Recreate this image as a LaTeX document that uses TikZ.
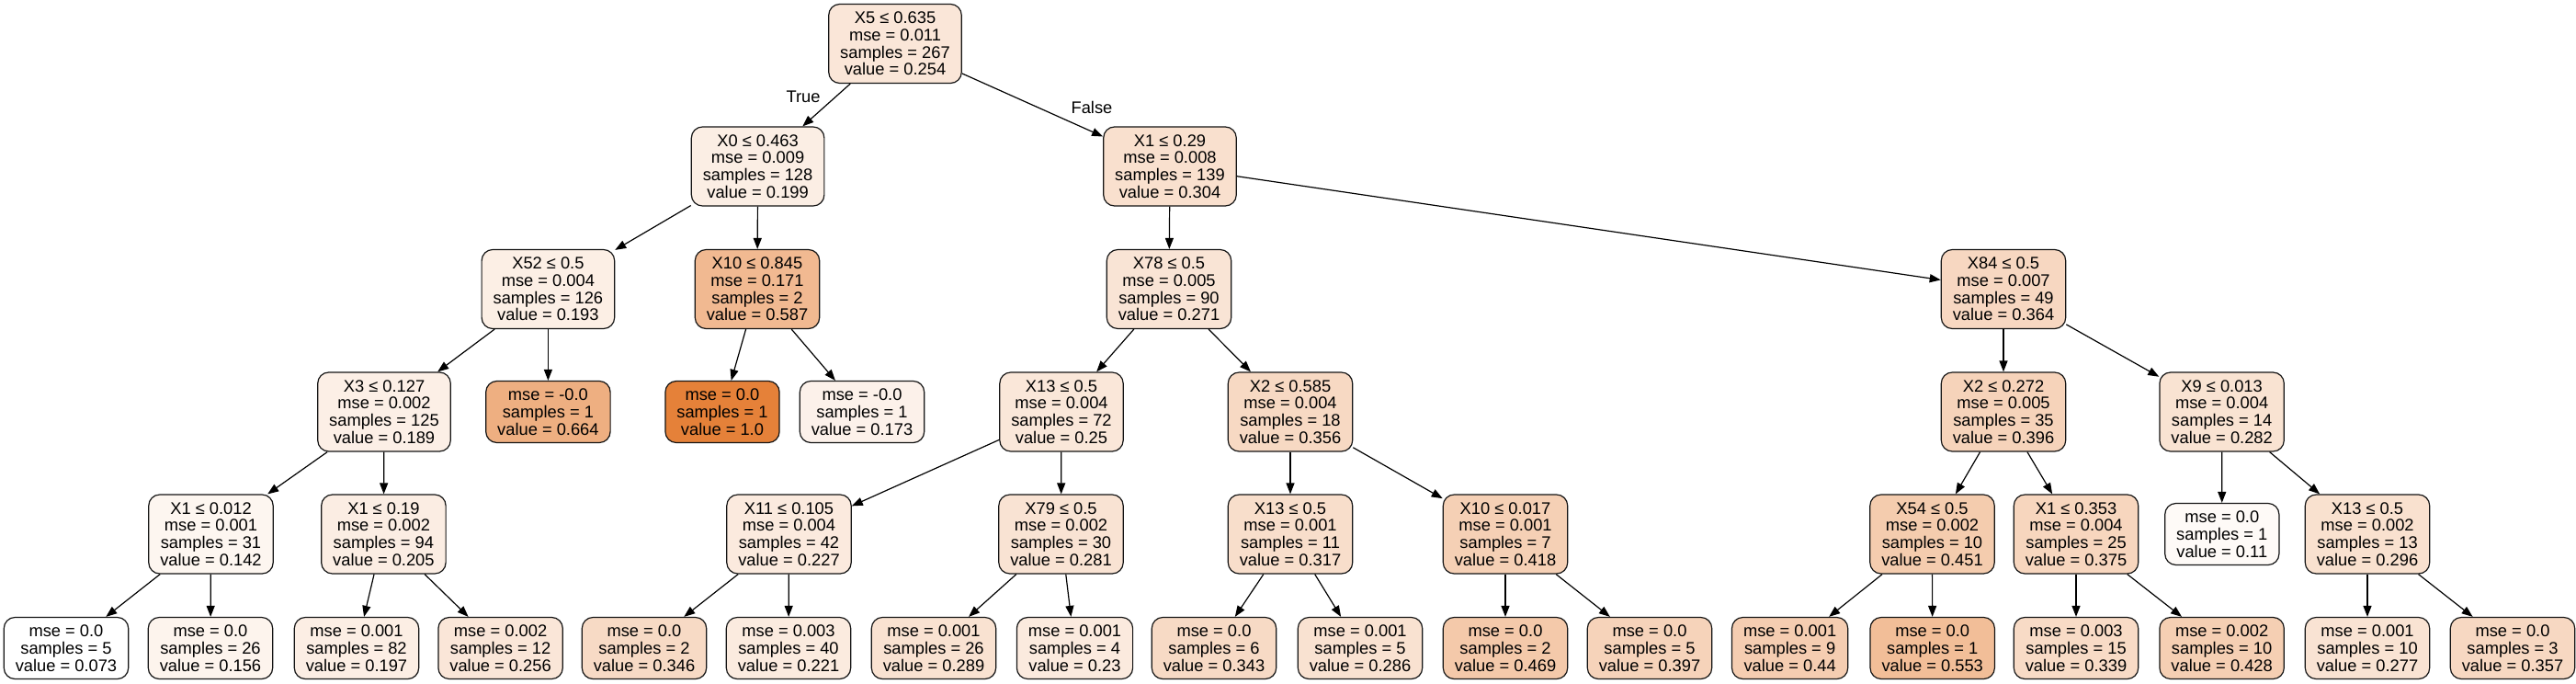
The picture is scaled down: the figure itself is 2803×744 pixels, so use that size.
\documentclass[tikz,border=0pt]{standalone}
\usepackage{fontspec}
\setmainfont{Liberation Sans}
\usetikzlibrary{arrows.meta}
\definecolor{treebase}{RGB}{229,129,57}
\definecolor{boxline}{RGB}{20,20,20}
\tikzset{
  tnode/.style={draw=boxline, line width=1.2pt, rounded corners=12pt, align=center,
    inner xsep=12.5pt, inner ysep=0pt, font=\fontsize{18.3pt}{18.7pt}\selectfont},
  split/.style={tnode, minimum height=86pt},
  leafbox/.style={tnode, minimum height=67pt},
  tedge/.style={draw=black, line width=1.2pt, -{Triangle[length=12pt,width=9pt]}},
  elabel/.style={font=\fontsize{18.3pt}{18.7pt}\selectfont}
}
\begin{document}
\begin{tikzpicture}[x=1pt,y=-1pt]
\useasboundingbox (0,0) rectangle (2803,744);
% level 0
\node[split, fill=treebase!19.5!white] (n0) at (974,47.5) {X5 ≤ 0.635\\mse = 0.011\\samples = 267\\value = 0.254};
% level 1
\node[split, fill=treebase!13.6!white] (n1) at (824.6,181) {X0 ≤ 0.463\\mse = 0.009\\samples = 128\\value = 0.199};
\node[split, fill=treebase!24.9!white] (n2) at (1273,181) {X1 ≤ 0.29\\mse = 0.008\\samples = 139\\value = 0.304};
% level 2
\node[split, fill=treebase!12.9!white] (n3) at (596.4,314.5) {X52 ≤ 0.5\\mse = 0.004\\samples = 126\\value = 0.193};
\node[split, fill=treebase!55.4!white] (n4) at (824,314.5) {X10 ≤ 0.845\\mse = 0.171\\samples = 2\\value = 0.587};
\node[split, fill=treebase!21.4!white] (n5) at (1272,314.5) {X78 ≤ 0.5\\mse = 0.005\\samples = 90\\value = 0.271};
\node[split, fill=treebase!31.4!white] (n6) at (2180,314.5) {X84 ≤ 0.5\\mse = 0.007\\samples = 49\\value = 0.364};
% level 3
\node[split, fill=treebase!12.5!white] (n7) at (418,448) {X3 ≤ 0.127\\mse = 0.002\\samples = 125\\value = 0.189};
\node[leafbox, fill=treebase!63.8!white] (n8) at (596.4,448) {mse = -0.0\\samples = 1\\value = 0.664};
\node[leafbox, fill=treebase!100!white] (n9) at (786,448) {mse = 0.0\\samples = 1\\value = 1.0};
\node[leafbox, fill=treebase!10.8!white] (n10) at (938,448) {mse = -0.0\\samples = 1\\value = 0.173};
\node[split, fill=treebase!19.1!white] (n11) at (1155,448) {X13 ≤ 0.5\\mse = 0.004\\samples = 72\\value = 0.25};
\node[split, fill=treebase!30.5!white] (n12) at (1404,448) {X2 ≤ 0.585\\mse = 0.004\\samples = 18\\value = 0.356};
\node[split, fill=treebase!34.8!white] (n13) at (2180,448) {X2 ≤ 0.272\\mse = 0.005\\samples = 35\\value = 0.396};
\node[split, fill=treebase!22.5!white] (n14) at (2417.6,448) {X9 ≤ 0.013\\mse = 0.004\\samples = 14\\value = 0.282};
% level 4
\node[split, fill=treebase!7.4!white] (n15) at (229.5,581) {X1 ≤ 0.012\\mse = 0.001\\samples = 31\\value = 0.142};
\node[split, fill=treebase!14.2!white] (n16) at (417.4,581) {X1 ≤ 0.19\\mse = 0.002\\samples = 94\\value = 0.205};
\node[split, fill=treebase!16.6!white] (n17) at (858.5,581) {X11 ≤ 0.105\\mse = 0.004\\samples = 42\\value = 0.227};
\node[split, fill=treebase!22.4!white] (n18) at (1154.5,581) {X79 ≤ 0.5\\mse = 0.002\\samples = 30\\value = 0.281};
\node[split, fill=treebase!26.3!white] (n19) at (1404,581) {X13 ≤ 0.5\\mse = 0.001\\samples = 11\\value = 0.317};
\node[split, fill=treebase!37.2!white] (n20) at (1638,581) {X10 ≤ 0.017\\mse = 0.001\\samples = 7\\value = 0.418};
\node[split, fill=treebase!40.8!white] (n21) at (2102.5,581) {X54 ≤ 0.5\\mse = 0.002\\samples = 10\\value = 0.451};
\node[split, fill=treebase!32.6!white] (n22) at (2259,581) {X1 ≤ 0.353\\mse = 0.004\\samples = 25\\value = 0.375};
\node[leafbox, fill=treebase!4.0!white] (n23) at (2417.8,581) {mse = 0.0\\samples = 1\\value = 0.11};
\node[split, fill=treebase!24.1!white] (n24) at (2576,581) {X13 ≤ 0.5\\mse = 0.002\\samples = 13\\value = 0.296};
% level 5
\node[leafbox, fill=white] (l0) at (72,705) {mse = 0.0\\samples = 5\\value = 0.073};
\node[leafbox, fill=treebase!9.0!white] (l1) at (229,705) {mse = 0.0\\samples = 26\\value = 0.156};
\node[leafbox, fill=treebase!13.4!white] (l2) at (388,705) {mse = 0.001\\samples = 82\\value = 0.197};
\node[leafbox, fill=treebase!19.7!white] (l3) at (544.6,705) {mse = 0.002\\samples = 12\\value = 0.256};
\node[leafbox, fill=treebase!29.4!white] (l4) at (701,705) {mse = 0.0\\samples = 2\\value = 0.346};
\node[leafbox, fill=treebase!16.0!white] (l5) at (858,705) {mse = 0.003\\samples = 40\\value = 0.221};
\node[leafbox, fill=treebase!23.3!white] (l6) at (1016,705) {mse = 0.001\\samples = 26\\value = 0.289};
\node[leafbox, fill=treebase!16.9!white] (l7) at (1169.5,705) {mse = 0.001\\samples = 4\\value = 0.23};
\node[leafbox, fill=treebase!29.1!white] (l8) at (1321,705) {mse = 0.0\\samples = 6\\value = 0.343};
\node[leafbox, fill=treebase!23.0!white] (l9) at (1480,705) {mse = 0.001\\samples = 5\\value = 0.286};
\node[leafbox, fill=treebase!42.7!white] (l10) at (1638,705) {mse = 0.0\\samples = 2\\value = 0.469};
\node[leafbox, fill=treebase!35.0!white] (l11) at (1795,705) {mse = 0.0\\samples = 5\\value = 0.397};
\node[leafbox, fill=treebase!39.6!white] (l12) at (1947.6,705) {mse = 0.001\\samples = 9\\value = 0.44};
\node[leafbox, fill=treebase!51.8!white] (l13) at (2102.7,705) {mse = 0.0\\samples = 1\\value = 0.553};
\node[leafbox, fill=treebase!28.7!white] (l14) at (2259,705) {mse = 0.003\\samples = 15\\value = 0.339};
\node[leafbox, fill=treebase!38.3!white] (l15) at (2417.6,705) {mse = 0.002\\samples = 10\\value = 0.428};
\node[leafbox, fill=treebase!22.0!white] (l16) at (2576,705) {mse = 0.001\\samples = 10\\value = 0.277};
\node[leafbox, fill=treebase!30.6!white] (l17) at (2734,705) {mse = 0.0\\samples = 3\\value = 0.357};
% edges
\draw[tedge] (n0) -- (n1);
\draw[tedge] (n0) -- (n2);
\draw[tedge] (n1) -- (n3);
\draw[tedge] (n1) -- (n4);
\draw[tedge] (n2) -- (n5);
\draw[tedge] (n2) -- (n6);
\draw[tedge] (n3) -- (n7);
\draw[tedge] (n3) -- (n8);
\draw[tedge] (n4) -- (n9);
\draw[tedge] (n4) -- (n10);
\draw[tedge] (n5) -- (n11);
\draw[tedge] (n5) -- (n12);
\draw[tedge] (n6) -- (n13);
\draw[tedge] (n6) -- (n14);
\draw[tedge] (n7) -- (n15);
\draw[tedge] (n7) -- (n16);
\draw[tedge] (n11) -- (n17);
\draw[tedge] (n11) -- (n18);
\draw[tedge] (n12) -- (n19);
\draw[tedge] (n12) -- (n20);
\draw[tedge] (n13) -- (n21);
\draw[tedge] (n13) -- (n22);
\draw[tedge] (n14) -- (n23);
\draw[tedge] (n14) -- (n24);
\draw[tedge] (n15) -- (l0);
\draw[tedge] (n15) -- (l1);
\draw[tedge] (n16) -- (l2);
\draw[tedge] (n16) -- (l3);
\draw[tedge] (n17) -- (l4);
\draw[tedge] (n17) -- (l5);
\draw[tedge] (n18) -- (l6);
\draw[tedge] (n18) -- (l7);
\draw[tedge] (n19) -- (l8);
\draw[tedge] (n19) -- (l9);
\draw[tedge] (n20) -- (l10);
\draw[tedge] (n20) -- (l11);
\draw[tedge] (n21) -- (l12);
\draw[tedge] (n21) -- (l13);
\draw[tedge] (n22) -- (l14);
\draw[tedge] (n22) -- (l15);
\draw[tedge] (n24) -- (l16);
\draw[tedge] (n24) -- (l17);
% edge labels
\node[elabel] (ltrue) at (874,105) {True};
\node[elabel] (lfalse) at (1188,117) {False};
\end{tikzpicture}
\end{document}
